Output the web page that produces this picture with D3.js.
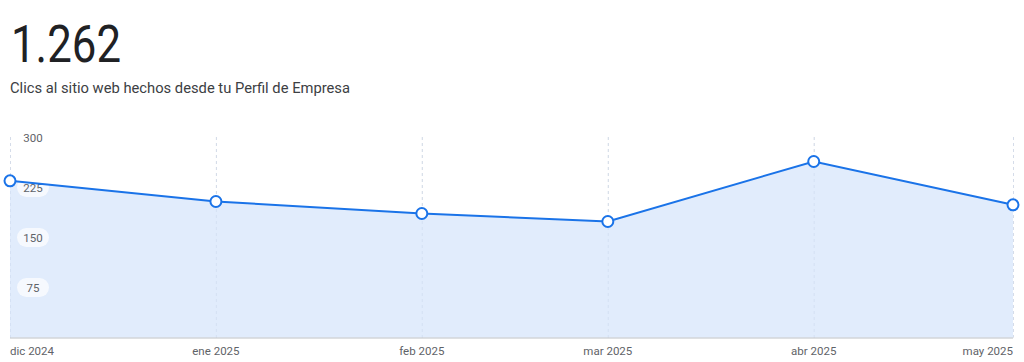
<!DOCTYPE html>
<html>
<head>
<meta charset="utf-8">
<script src="https://cdn.jsdelivr.net/npm/d3@7"></script>
<style>
  body { margin: 0; background: #fff; font-family: Roboto, "Noto Sans", sans-serif; }
  svg { display: block; }
</style>
</head>
<body>
<div id="chart"></div>
<script>
// data
const months = ["2024-12-01", "2025-01-01", "2025-02-01", "2025-03-01", "2025-04-01", "2025-05-01"];
const monthLabels = ["dic 2024", "ene 2025", "feb 2025", "mar 2025", "abr 2025", "may 2025"];
const clicks = [235, 204, 186, 174, 264, 199];
const yTicks = [75, 150, 225, 300];
const total = "1.262";
const subtitle = "Clics al sitio web hechos desde tu Perfil de Empresa";

const width = 1024, height = 362;
const parse = d3.timeParse("%Y-%m-%d");
const points = months.map((m, i) => ({ date: parse(m), value: clicks[i], label: monthLabels[i] }));

const svg = d3.select("#chart").append("svg")
  .attr("width", width)
  .attr("height", height);

// header
svg.append("text")
  .attr("x", 11).attr("y", 62)
  .attr("font-size", 51)
  .attr("fill", "#202124")
  .attr("textLength", 110)
  .attr("lengthAdjust", "spacingAndGlyphs")
  .text(total);

svg.append("text")
  .attr("x", 10).attr("y", 93)
  .attr("font-size", 14.8)
  .attr("fill", "#3c4043")
  .attr("textLength", 340)
  .attr("lengthAdjust", "spacingAndGlyphs")
  .text(subtitle);

// SCALES
const xScale = d3.scaleTime()
  .domain(d3.extent(points, (d) => d.date))
  .range([10, 1013]);

const yScale = d3.scaleLinear()
  .domain([0, 300])
  .range([337.5, 137.5]);

// vertical dashed grid
svg.append("g")
  .selectAll("line")
  .data(points)
  .enter()
  .append("line")
  .attr("x1", (d) => xScale(d.date) + 0.5)
  .attr("x2", (d) => xScale(d.date) + 0.5)
  .attr("y1", 137)
  .attr("y2", yScale(0))
  .attr("stroke", "#e0e2e6")
  .attr("stroke-dasharray", "3,3");

// area
const area = d3.area()
  .x((d) => xScale(d.date))
  .y0(yScale(0))
  .y1((d) => yScale(d.value));

svg.append("path")
  .datum(points)
  .attr("d", area)
  .attr("fill", "#e1ecfc");

// grid again over the area, faint
svg.append("g")
  .selectAll("line")
  .data(points)
  .enter()
  .append("line")
  .attr("x1", (d) => xScale(d.date) + 0.5)
  .attr("x2", (d) => xScale(d.date) + 0.5)
  .attr("y1", 137)
  .attr("y2", yScale(0))
  .attr("stroke", "#c9d6ec")
  .attr("stroke-opacity", 0.5)
  .attr("stroke-dasharray", "3,3");

// baseline
svg.append("line")
  .attr("x1", xScale.range()[0])
  .attr("x2", xScale.range()[1])
  .attr("y1", yScale(0) + 0.5)
  .attr("y2", yScale(0) + 0.5)
  .attr("stroke", "#bdc1c6")
  .attr("stroke-width", 1);

// y tick labels with pill backgrounds
const yg = svg.append("g")
  .selectAll("g")
  .data(yTicks)
  .enter()
  .append("g")
  .attr("transform", (d) => `translate(33, ${yScale(d)})`);

yg.append("rect")
  .attr("x", -16).attr("y", -9.5)
  .attr("width", 32).attr("height", 19)
  .attr("rx", 9.5)
  .attr("fill", "#fff")
  .attr("fill-opacity", 0.7);

yg.append("text")
  .attr("text-anchor", "middle")
  .attr("dy", "0.35em")
  .attr("font-size", 11.5)
  .attr("fill", "#5f6368")
  .text((d) => d);

// line
const line = d3.line()
  .x((d) => xScale(d.date))
  .y((d) => yScale(d.value));

svg.append("path")
  .datum(points)
  .attr("d", line)
  .attr("fill", "none")
  .attr("stroke", "#1a73e8")
  .attr("stroke-width", 2);

// markers
svg.append("g")
  .selectAll("circle")
  .data(points)
  .enter()
  .append("circle")
  .attr("cx", (d) => xScale(d.date))
  .attr("cy", (d) => yScale(d.value))
  .attr("r", 5.5)
  .attr("fill", "#fff")
  .attr("stroke", "#1a73e8")
  .attr("stroke-width", 2);

// x labels
svg.append("g")
  .selectAll("text")
  .data(points)
  .enter()
  .append("text")
  .attr("x", (d) => xScale(d.date))
  .attr("y", 355)
  .attr("text-anchor", (d, i) => i === 0 ? "start" : (i === points.length - 1 ? "end" : "middle"))
  .attr("font-size", 11.5)
  .attr("fill", "#5f6368")
  .text((d) => d.label);
</script>
</body>
</html>
